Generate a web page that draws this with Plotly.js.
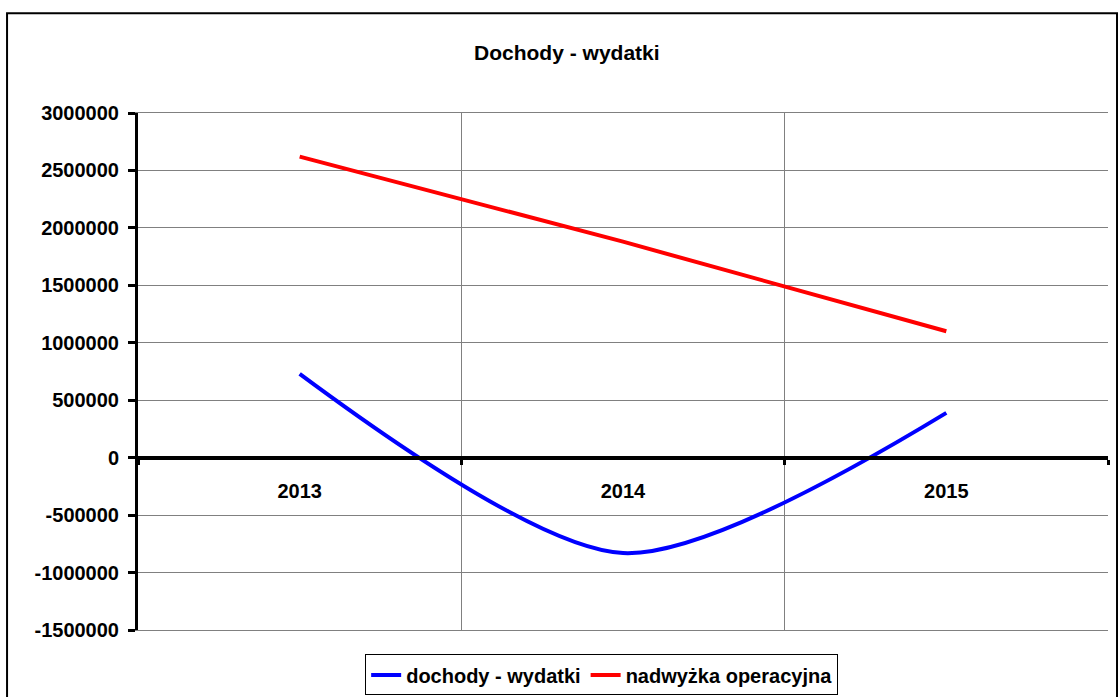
<!DOCTYPE html>
<html>
<head>
<meta charset="utf-8">
<script src="https://cdn.plot.ly/plotly-3.0.1.min.js"></script>
<style>html,body{margin:0;padding:0;background:#fff;}#chart{width:1118px;height:697px;}</style>
</head>
<body>
<div id="chart"></div>
<script>
const years = ["2013", "2014", "2015"];
const dochodyWydatki = [730000, -830000, 390000];
const nadwyzkaOperacyjna = [2620000, 1880000, 1100000];
const yTickVals = [-1500000, -1000000, -500000, 0, 500000, 1000000, 1500000, 2000000, 2500000, 3000000];
const yTickText = ["-1500000", "-1000000", "-500000", "0", "500000", "1000000", "1500000", "2000000", "2500000", "3000000"];
const titleText = "Dochody - wydatki";
const seriesNames = ["dochody - wydatki", "nadwyżka operacyjna"];

const FONT = "Liberation Sans, Arial, sans-serif";
const yRange = [-1500000, 3000000];

const traces = [
  {
    x: years, y: dochodyWydatki, name: seriesNames[0], type: "scatter", mode: "lines",
    line: {color: "#0000FF", width: 4, shape: "spline", smoothing: 0.8},
    xaxis: "x2", yaxis: "y"
  },
  {
    x: years, y: nadwyzkaOperacyjna, name: seriesNames[1], type: "scatter", mode: "lines",
    line: {color: "#FF0000", width: 4},
    xaxis: "x", yaxis: "y"
  }
];

const layout = {
  width: 1118, height: 697,
  margin: {l: 138, r: 10, t: 113, b: 67},
  paper_bgcolor: "#fff", plot_bgcolor: "#fff",
  font: {family: FONT, size: 20, color: "#000"},
  title: {text: "<b>" + titleText + "</b>", x: 0.507, xref: "container", xanchor: "center",
          y: 0.925, yref: "container", yanchor: "middle", font: {family: FONT, size: 21, color: "#000"}},
  showlegend: true,
  legend: {orientation: "h", x: 0.478, xanchor: "center", xref: "paper",
           y: 0.061, yref: "container", yanchor: "top",
           bordercolor: "#000", borderwidth: 1, bgcolor: "#fff",
           font: {family: FONT, size: 20, color: "#000", weight: "bold"},
           traceorder: "normal", itemwidth: 30, tracegroupgap: 0},
  xaxis: {
    type: "category", categoryarray: years, categoryorder: "array", range: [-0.5, 2.5],
    tickson: "boundaries", showgrid: true, gridcolor: "#808080", gridwidth: 1,
    showticklabels: false, ticks: "", showline: true, linecolor: "#808080", linewidth: 1, mirror: true,
    zeroline: false, fixedrange: true
  },
  xaxis2: {
    type: "category", categoryarray: years, categoryorder: "array", range: [-0.5, 2.5],
    overlaying: "x", anchor: "free", position: 1/3, side: "bottom",
    tickson: "boundaries", showgrid: false, showline: true, linecolor: "#000", linewidth: 4,
    ticks: "outside", ticklen: 5, tickwidth: 3, tickcolor: "#000",
    ticklabelstandoff: 14,
    tickfont: {family: FONT, size: 20, color: "#000", weight: "bold"}, zeroline: false
  },
  yaxis: {
    range: yRange, tickvals: yTickVals, ticktext: yTickText,
    showgrid: true, gridcolor: "#808080", gridwidth: 1, zeroline: false,
    showline: true, linecolor: "#000", linewidth: 3,
    ticks: "outside", ticklen: 7, tickwidth: 3, tickcolor: "#000",
    ticklabelstandoff: 5,
    tickfont: {family: FONT, size: 20, color: "#000", weight: "bold"}, fixedrange: true
  },
  yaxis2: {
    range: yRange, overlaying: "y", side: "right", anchor: "x",
    showline: true, linecolor: "#808080", linewidth: 1, showgrid: false, zeroline: false,
    showticklabels: false, ticks: ""
  },
  shapes: [
    {type: "rect", xref: "paper", yref: "paper", x0: -0.135, x1: 1.0093, y0: -0.2, y1: 1.193,
     line: {color: "#000", width: 2}, fillcolor: "rgba(0,0,0,0)", layer: "below"}
  ]
};

Plotly.newPlot("chart", traces, layout, {displayModeBar: false, staticPlot: true});
</script>
</body>
</html>
